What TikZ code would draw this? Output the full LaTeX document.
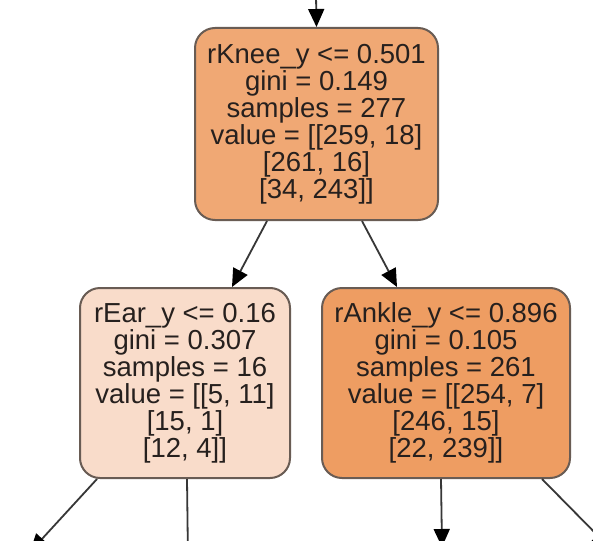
\documentclass[tikz,border=0pt]{standalone}
\usepackage{fontspec}
\setmainfont{Liberation Sans}
\usetikzlibrary{arrows.meta}
\definecolor{topfill}{RGB}{240,168,116}
\definecolor{leftfill}{RGB}{249,220,202}
\definecolor{rightfill}{RGB}{238,157,98}
\definecolor{edgegray}{RGB}{105,92,84}
\definecolor{linegray}{RGB}{55,55,55}
\definecolor{txt}{RGB}{38,32,30}
\tikzset{
  treenode/.style={draw=edgegray, line width=2pt, rounded corners=20pt, align=center,
    text=txt, font=\fontsize{27.5}{27}\selectfont, inner sep=0pt},
  conn/.style={draw=linegray, line width=1.8pt, -{Triangle[length=18pt,width=16pt,color=black]}},
  plainconn/.style={draw=linegray, line width=1.8pt}
}
\begin{document}
\begin{tikzpicture}[x=1pt,y=-1pt]
\clip (0,0) rectangle (593,540);
\fill[white] (0,0) rectangle (593,540);
\node[treenode, fill=topfill, minimum width=243pt, minimum height=192pt] (top) at (316.5,124)
  {rKnee\_y <= 0.501\\gini = 0.149\\samples = 277\\value = {[[}259, 18{]}\\{[}261, 16{]}\\{[}34, 243{]]}};
\node[treenode, fill=leftfill, minimum width=210pt, minimum height=190pt] (left) at (185,383)
  {rEar\_y <= 0.16\\gini = 0.307\\samples = 16\\value = {[[}5, 11{]}\\{[}15, 1{]}\\{[}12, 4{]]}};
\node[treenode, fill=rightfill, minimum width=248pt, minimum height=190pt] (right) at (446,383)
  {rAnkle\_y <= 0.896\\gini = 0.105\\samples = 261\\value = {[[}254, 7{]}\\{[}246, 15{]}\\{[}22, 239{]]}};
\coordinate (in0) at (316,-5);
\coordinate (outA) at (30,552);
\coordinate (outB) at (188,560);
\coordinate (outC) at (442,547);
\coordinate (outD) at (610,548);
\draw[conn] (in0) -- (top.north);
\draw[conn] ([xshift=73pt]top.south west) -- ([xshift=153pt]left.north west);
\draw[conn] ([xshift=168pt]top.south west) -- ([xshift=76pt]right.north west);
\draw[conn] ([xshift=18pt]left.south west) -- (outA);
\draw[plainconn] ([xshift=108pt]left.south west) -- (outB);
\draw[conn] ([xshift=120pt]right.south west) -- (outC);
\draw[conn] ([xshift=221pt]right.south west) -- (outD);
\end{tikzpicture}
\end{document}
